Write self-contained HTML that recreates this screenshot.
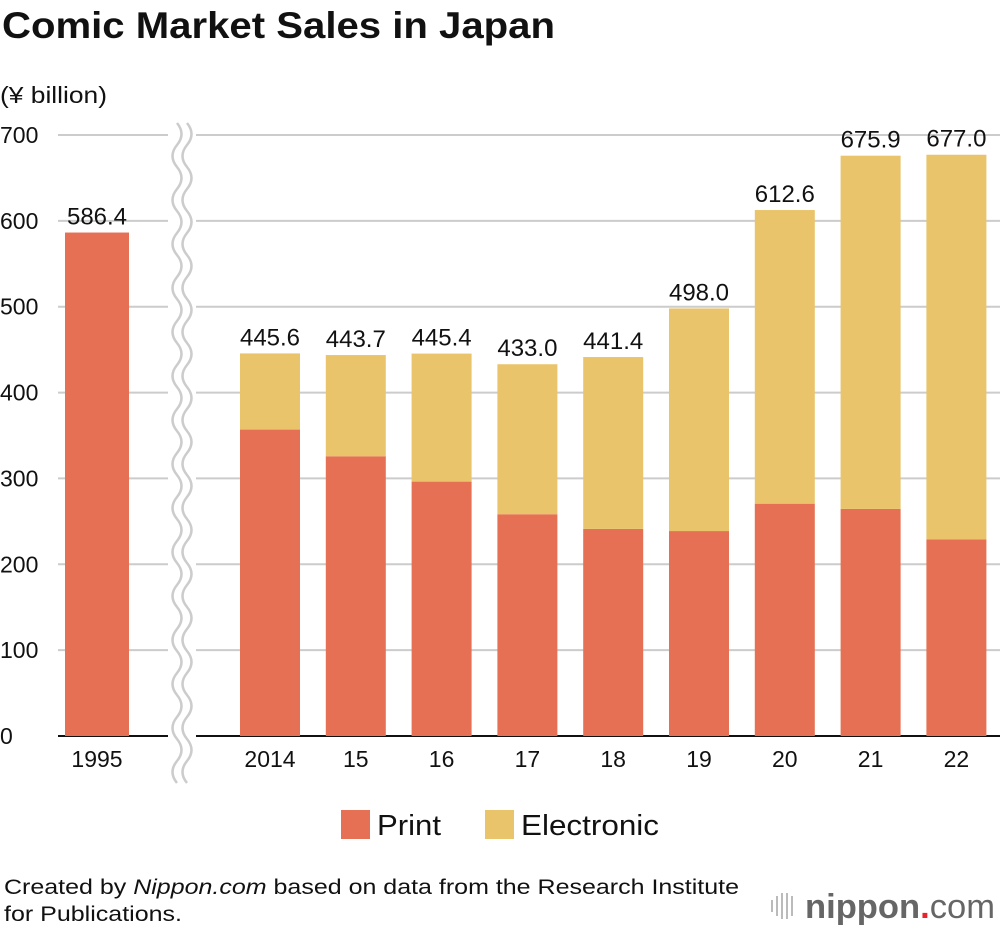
<!DOCTYPE html>
<html><head><meta charset="utf-8"><style>
body{margin:0;background:#fff;font-family:"Liberation Sans",sans-serif}
</style></head><body>
<svg id="chart" width="1000" height="930" viewBox="0 0 1000 930" xmlns="http://www.w3.org/2000/svg" font-family="Liberation Sans, sans-serif">
<text x="2" y="38" font-size="37" font-weight="bold" fill="#111" textLength="553" lengthAdjust="spacingAndGlyphs">Comic Market Sales in Japan</text>
<text x="0" y="103" font-size="23" fill="#111" textLength="107" lengthAdjust="spacingAndGlyphs">(¥ billion)</text>
<g id="grid"></g>
<g id="bars"></g>
<g id="brk"></g>
<g id="labels"></g>
<g>
<rect x="341" y="810" width="29" height="29" fill="#e67054"/>
<text x="377" y="835" font-size="29" fill="#111" textLength="64" lengthAdjust="spacingAndGlyphs">Print</text>
<rect x="485" y="810" width="29" height="29" fill="#e9c46b"/>
<text x="521" y="835" font-size="29" fill="#111" textLength="138" lengthAdjust="spacingAndGlyphs">Electronic</text>
</g>
<text x="4" y="894" font-size="21" fill="#111" textLength="735" lengthAdjust="spacingAndGlyphs">Created by <tspan font-style="italic">Nippon.com</tspan> based on data from the Research Institute</text>
<text x="4" y="921" font-size="21" fill="#111" textLength="178" lengthAdjust="spacingAndGlyphs">for Publications.</text>
<g>
<g stroke="#bbb" stroke-width="2">
<line x1="772" y1="900" x2="772" y2="912"/><line x1="777" y1="896" x2="777" y2="916"/><line x1="782" y1="893" x2="782" y2="919"/><line x1="787" y1="893" x2="787" y2="919"/><line x1="792" y1="896" x2="792" y2="916"/></g>
<text x="805" y="918" font-size="34" fill="#666" font-weight="bold" textLength="190" lengthAdjust="spacingAndGlyphs">nippon<tspan fill="#e8232a">.</tspan><tspan font-weight="normal">com</tspan></text>
</g>
</svg>
<script>
const categories=["1995","2014","15","16","17","18","19","20","21","22"];
const printValues=[586.4,356.9,325.8,296.3,258.3,241.2,238.7,270.6,264.5,229.1];
const totalValues=[586.4,445.6,443.7,445.4,433.0,441.4,498.0,612.6,675.9,677.0];
const totalLabels=["586.4","445.6","443.7","445.4","433.0","441.4","498.0","612.6","675.9","677.0"];
const yTicks=[0,100,200,300,400,500,600,700];
const NS="http://www.w3.org/2000/svg";
const y0=736,yTop=135;
function y(v){return y0-(v/700)*(y0-yTop);}
function x(i){return i===0?65:240+(i-1)*85.8;}
function bw(i){return i===0?64:60;}
function mk(tag,attrs,parent){const e=document.createElementNS(NS,tag);for(const k in attrs)e.setAttribute(k,attrs[k]);parent.appendChild(e);return e;}
const grid=document.getElementById('grid'),bars=document.getElementById('bars'),labels=document.getElementById('labels'),brk=document.getElementById('brk');
yTicks.forEach(t=>{
  const l=mk('line',{x1:58,x2:1000,y1:y(t),y2:y(t),stroke:t===0?'#111':'#ccc','stroke-width':2},grid);
  
  
  const tx=mk('text',{x:0,y:y(t)+8,'font-size':23,fill:'#111'},labels);
  tx.textContent=t;
  
  
});
categories.forEach((c,i)=>{
  const p=mk('rect',{x:x(i),width:bw(i),y:y(printValues[i]),height:y0-y(printValues[i]),fill:'#e67054'},bars);
  
  
  const ev=totalValues[i]-printValues[i];
  if(ev>0){
    const e=mk('rect',{x:x(i),width:bw(i),y:y(totalValues[i]),height:y(printValues[i])-y(totalValues[i]),fill:'#e9c46b'},bars);
    
    
  }
  const vt=mk('text',{x:x(i)+bw(i)/2,y:y(totalValues[i])-8,'font-size':24,fill:'#111','text-anchor':'middle'},labels);
  vt.textContent=totalLabels[i];
  
  
  const ct=mk('text',{x:x(i)+bw(i)/2,y:767,'font-size':23,fill:'#111','text-anchor':'middle'},labels);
  ct.textContent=c;
  
  
});
mk('rect',{x:168,y:120,width:28,height:650,fill:'#fff'},brk);
[177,187].forEach(bx=>{
  let d='M'+bx+' 123';
  for(let yy=123;yy<768;yy+=44){d+=' q 9 11 0 22 q -9 11 0 22';}
  mk('path',{d:d,fill:'none',stroke:'#ccc','stroke-width':2.5},brk);
});
</script>
</body></html>
